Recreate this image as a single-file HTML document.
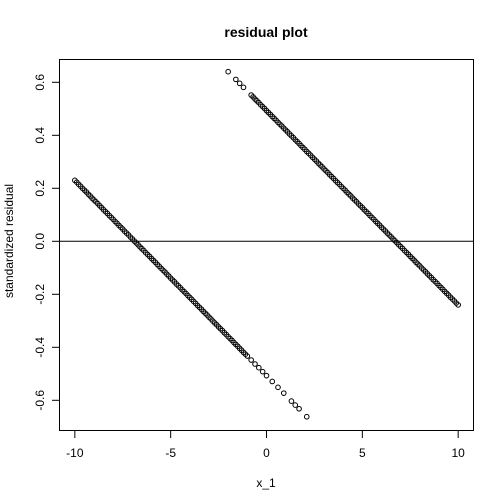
<!DOCTYPE html>
<html><head><meta charset="utf-8"><style>
body{margin:0;background:#fff}
svg{display:block;font-family:"Liberation Sans",Arial,sans-serif}
</style></head><body>
<svg id="chart" width="504" height="504" viewBox="0 0 504 504">
<text x="266" y="37" text-anchor="middle" font-weight="bold" font-size="14">residual plot</text>
<text x="266" y="487" text-anchor="middle" font-size="12">x_1</text>
<text transform="translate(13,241) rotate(-90)" text-anchor="middle" font-size="12">standardized residual</text>
<rect x="59.5" y="59.5" width="414" height="371" fill="none" stroke="#000" stroke-width="1"/>
<g id="axes"></g>
<g id="pts"></g>
</svg>
<script>
const xTicks=[-10,-5,0,5,10];
const yTicks=[-0.6,-0.4,-0.2,0.0,0.2,0.4,0.6];
const yTickLabels=["-0.6","-0.4","-0.2","0.0","0.2","0.4","0.6"];
const group1X=[-10,-9.9,-9.8,-9.7,-9.6,-9.5,-9.4,-9.3,-9.2,-9.1,-9.0,-8.9,-8.8,-8.7,-8.6,-8.5,-8.4,-8.3,-8.2,-8.1,-8.0,-7.9,-7.8,-7.7,-7.6,-7.5,-7.4,-7.3,-7.2,-7.1,-7.0,-6.9,-6.8,-6.7,-6.6,-6.5,-6.4,-6.3,-6.2,-6.1,-6.0,-5.9,-5.8,-5.7,-5.6,-5.5,-5.4,-5.3,-5.2,-5.1,-5.0,-4.9,-4.8,-4.7,-4.6,-4.5,-4.4,-4.3,-4.2,-4.1,-4.0,-3.9,-3.8,-3.7,-3.6,-3.5,-3.4,-3.3,-3.2,-3.1,-3.0,-2.9,-2.8,-2.7,-2.6,-2.5,-2.4,-2.3,-2.2,-2.1,-2.0,-1.9,-1.8,-1.7,-1.6,-1.5,-1.4,-1.3,-1.2,-1.1,-1.0,-0.8,-0.6,-0.4,-0.2,0,0.3,0.6,0.9,1.3,1.5,1.7,2.1];
const group1Y=[0.230,0.223,0.215,0.208,0.200,0.193,0.186,0.178,0.171,0.163,0.156,0.149,0.142,0.134,0.127,0.119,0.112,0.105,0.097,0.090,0.083,0.075,0.068,0.060,0.053,0.046,0.038,0.031,0.024,0.016,0.009,0.001,-0.006,-0.013,-0.021,-0.028,-0.035,-0.043,-0.050,-0.057,-0.065,-0.072,-0.079,-0.087,-0.094,-0.102,-0.109,-0.116,-0.124,-0.131,-0.139,-0.146,-0.153,-0.161,-0.168,-0.175,-0.183,-0.190,-0.197,-0.205,-0.212,-0.219,-0.227,-0.234,-0.242,-0.249,-0.256,-0.264,-0.271,-0.278,-0.286,-0.293,-0.301,-0.308,-0.315,-0.323,-0.330,-0.337,-0.345,-0.352,-0.360,-0.367,-0.374,-0.382,-0.389,-0.396,-0.404,-0.411,-0.419,-0.426,-0.433,-0.448,-0.463,-0.477,-0.492,-0.507,-0.529,-0.551,-0.573,-0.603,-0.618,-0.632,-0.662];
const group2X=[-2.0,-1.6,-1.4,-1.2,-0.8,-0.7,-0.6,-0.5,-0.4,-0.3,-0.2,-0.1,0,0.1,0.2,0.3,0.4,0.5,0.6,0.7,0.8,0.9,1.0,1.1,1.2,1.3,1.4,1.5,1.6,1.7,1.8,1.9,2.0,2.1,2.2,2.3,2.4,2.5,2.6,2.7,2.8,2.9,3.0,3.1,3.2,3.3,3.4,3.5,3.6,3.7,3.8,3.9,4.0,4.1,4.2,4.3,4.4,4.5,4.6,4.7,4.8,4.9,5.0,5.1,5.2,5.3,5.4,5.5,5.6,5.7,5.8,5.9,6.0,6.1,6.2,6.3,6.4,6.5,6.6,6.7,6.8,6.9,7.0,7.1,7.2,7.3,7.4,7.5,7.6,7.7,7.8,7.9,8.0,8.1,8.2,8.3,8.4,8.5,8.6,8.7,8.8,8.9,9.0,9.1,9.2,9.3,9.4,9.5,9.6,9.7,9.8,9.9,10];
const group2Y=[0.640,0.611,0.596,0.581,0.552,0.545,0.537,0.530,0.523,0.515,0.508,0.501,0.493,0.486,0.479,0.471,0.464,0.457,0.449,0.442,0.435,0.427,0.420,0.413,0.405,0.398,0.391,0.383,0.376,0.369,0.361,0.354,0.347,0.339,0.332,0.325,0.317,0.310,0.303,0.295,0.288,0.281,0.273,0.266,0.259,0.251,0.244,0.237,0.229,0.222,0.215,0.207,0.200,0.193,0.185,0.178,0.171,0.163,0.156,0.149,0.141,0.134,0.127,0.119,0.112,0.105,0.097,0.090,0.083,0.075,0.068,0.061,0.053,0.046,0.039,0.031,0.024,0.017,0.009,0.002,-0.005,-0.013,-0.020,-0.027,-0.035,-0.042,-0.049,-0.057,-0.064,-0.071,-0.079,-0.086,-0.093,-0.101,-0.108,-0.115,-0.123,-0.130,-0.137,-0.145,-0.152,-0.159,-0.167,-0.174,-0.181,-0.189,-0.196,-0.203,-0.211,-0.218,-0.225,-0.233,-0.240];
const NS="http://www.w3.org/2000/svg";
function sx(v){return 59.5+(v+10.8)*414/21.6;}
function sy(v){return 241.3-v*265;}
const ax=document.getElementById('axes');
function mk(t,a,p){const e=document.createElementNS(NS,t);for(const k in a)e.setAttribute(k,a[k]);p.appendChild(e);return e;}
const xl=mk('line',{x1:sx(-10),x2:sx(10),y1:430.5,y2:430.5,stroke:'#000'},ax);


xTicks.forEach(v=>{
  const t=mk('line',{x1:sx(v),x2:sx(v),y1:430.5,y2:438,stroke:'#000'},ax);
  
  
  const l=mk('text',{x:sx(v),y:457,'text-anchor':'middle','font-size':12},ax);
  l.textContent=String(v);
  
  
});
const yl=mk('line',{x1:59.5,x2:59.5,y1:sy(-0.6),y2:sy(0.6),stroke:'#000'},ax);


yTicks.forEach((v,i)=>{
  const y=sy(v);
  const t=mk('line',{x1:52,x2:59.5,y1:y,y2:y,stroke:'#000'},ax);
  
  
  const l=mk('text',{transform:`translate(44,${y}) rotate(-90)`,'text-anchor':'middle','font-size':12},ax);
  l.textContent=yTickLabels[i];
  
  
});
const zl=mk('line',{x1:59.5,x2:473.5,y1:sy(0),y2:sy(0),stroke:'#000'},ax);


const pg=document.getElementById('pts');
function draw(X,Y,name){X.forEach((x,i)=>{
  const c=mk('circle',{cx:sx(x),cy:sy(Y[i]),r:2.3,fill:'none',stroke:'#000','stroke-width':1},pg);
  
  
});}
draw(group1X,group1Y,'residual-point-group1');
draw(group2X,group2Y,'residual-point-group2');
</script>
</body></html>
